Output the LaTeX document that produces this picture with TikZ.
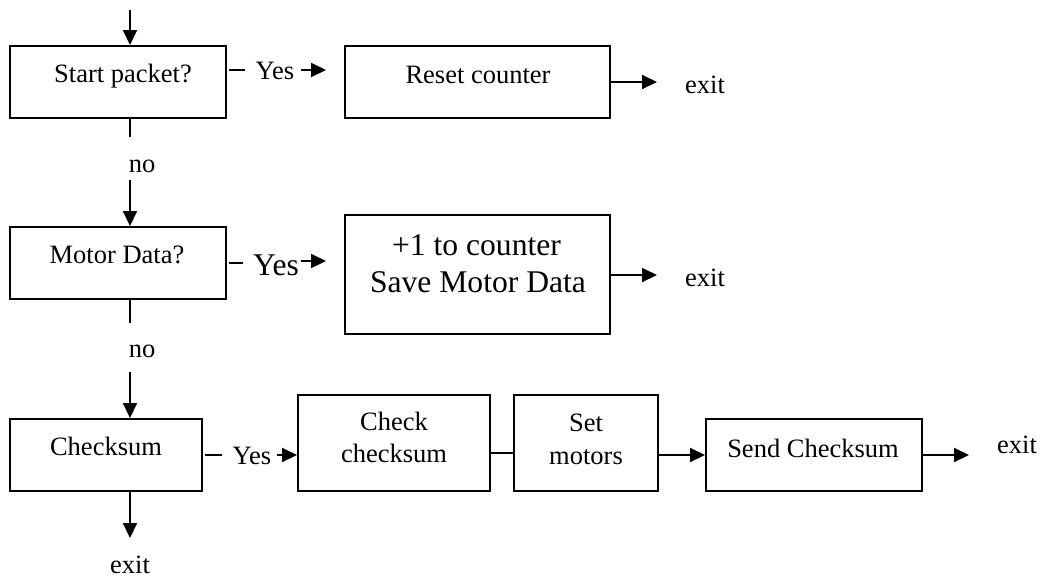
\documentclass[tikz,border=0pt]{standalone}
\usepackage{fontspec}
\setmainfont{Liberation Serif}
\usetikzlibrary{arrows.meta}
\begin{document}
\begin{tikzpicture}[x=0.5pt,y=-0.5pt,
  box/.style={draw, line width=1pt, rectangle, inner sep=0pt},
  txt/.style={anchor=base, inner sep=0pt, font=\fontsize{13.25pt}{16pt}\selectfont},
  bigtxt/.style={anchor=base, inner sep=0pt, font=\fontsize{15.8pt}{19pt}\selectfont},
  ln/.style={line width=1pt},
  arr/.style={line width=1pt, -{Triangle[length=7.5pt,width=7pt]}}]
\useasboundingbox (0,0) rectangle (1044,579);

% boxes
\node[box, minimum width=108pt, minimum height=36pt] (b1) at (118,82) {};
\node[box, minimum width=108pt, minimum height=36pt] (b2) at (118,263) {};
\node[box, minimum width=96pt, minimum height=36pt] (b3) at (106,455) {};
\node[box, minimum width=132.5pt, minimum height=36pt] (r1) at (477.5,82) {};
\node[box, minimum width=132.5pt, minimum height=59.5pt] (r2) at (477.5,274.5) {};
\node[box, minimum width=96pt, minimum height=48pt] (c1) at (394,443) {};
\node[box, minimum width=72pt, minimum height=48pt] (c2) at (586,443) {};
\node[box, minimum width=108pt, minimum height=36pt] (c3) at (814,455) {};

% box texts
\node[txt] (t1) at (123,82) {Start packet?};
\node[txt] (t2) at (117,263) {Motor Data?};
\node[txt] (t3) at (106,455) {Checksum};
\node[txt] (tr1) at (478,83) {Reset counter};
\node[bigtxt] (tr2a) at (476.5,255) {+1 to counter};
\node[bigtxt] (tr2b) at (478,292) {Save Motor Data};
\node[txt] (tc1a) at (394,430) {Check};
\node[txt] (tc1b) at (394,462) {checksum};
\node[txt] (tc2a) at (586,431) {Set};
\node[txt] (tc2b) at (586,464) {motors};
\node[txt] (tc3) at (813,457) {Send Checksum};

% branch labels
\node[txt] (yes1) at (275,79) {Yes};
\node[bigtxt] (yes2) at (276,275) {Yes};
\node[txt] (yes3) at (252,464) {Yes};
\node[txt] (no1) at (142,172) {no};
\node[txt] (no2) at (142,357) {no};
\node[txt] (exit1) at (705,93) {exit};
\node[txt] (exit2) at (705,286) {exit};
\node[txt] (exit3) at (1017,453) {exit};
\node[txt] (exit4) at (130,573) {exit};

% vertical flow
\coordinate (in) at (130,10);
\draw[arr] (in) -- (in |- b1.north);
\coordinate (n1a) at (130,137);
\coordinate (n1b) at (130,180);
\draw[ln] (n1a |- b1.south) -- (n1a);
\draw[arr] (n1b) -- (n1b |- b2.north);
\coordinate (n2a) at (130,323);
\coordinate (n2b) at (130,372);
\draw[ln] (n2a |- b2.south) -- (n2a);
\draw[arr] (n2b) -- (n2b |- b3.north);
\coordinate (x4) at (130,538);
\draw[arr] (x4 |- b3.south) -- (x4);

% row 1
\coordinate (d1a) at (229,70);
\coordinate (d1b) at (245,70);
\draw[ln] (d1a) -- (d1b);
\coordinate (a1a) at (301,70);
\coordinate (a1b) at (326,70);
\draw[arr] (a1a) -- (a1b);
\coordinate (x1) at (657,82);
\draw[arr] (r1.east |- x1) -- (x1);

% row 2
\coordinate (d2a) at (229,263);
\coordinate (d2b) at (243,263);
\draw[ln] (d2a) -- (d2b);
\coordinate (a2a) at (301,261);
\coordinate (a2b) at (326,261);
\draw[arr] (a2a) -- (a2b);
\coordinate (x2) at (657,275);
\draw[arr] (r2.east |- x2) -- (x2);

% row 3
\coordinate (d3a) at (205,455);
\coordinate (d3b) at (222,455);
\draw[ln] (d3a) -- (d3b);
\coordinate (a3a) at (277,455);
\draw[arr] (a3a) -- (a3a -| c1.west);
\coordinate (m1) at (500,453);
\draw[ln] (c1.east |- m1) -- (c2.west |- m1);
\draw[arr] (c2.east |- c3.west) -- (c3.west);
\coordinate (x3) at (969,455);
\draw[arr] (c3.east) -- (x3);
\end{tikzpicture}
\end{document}
